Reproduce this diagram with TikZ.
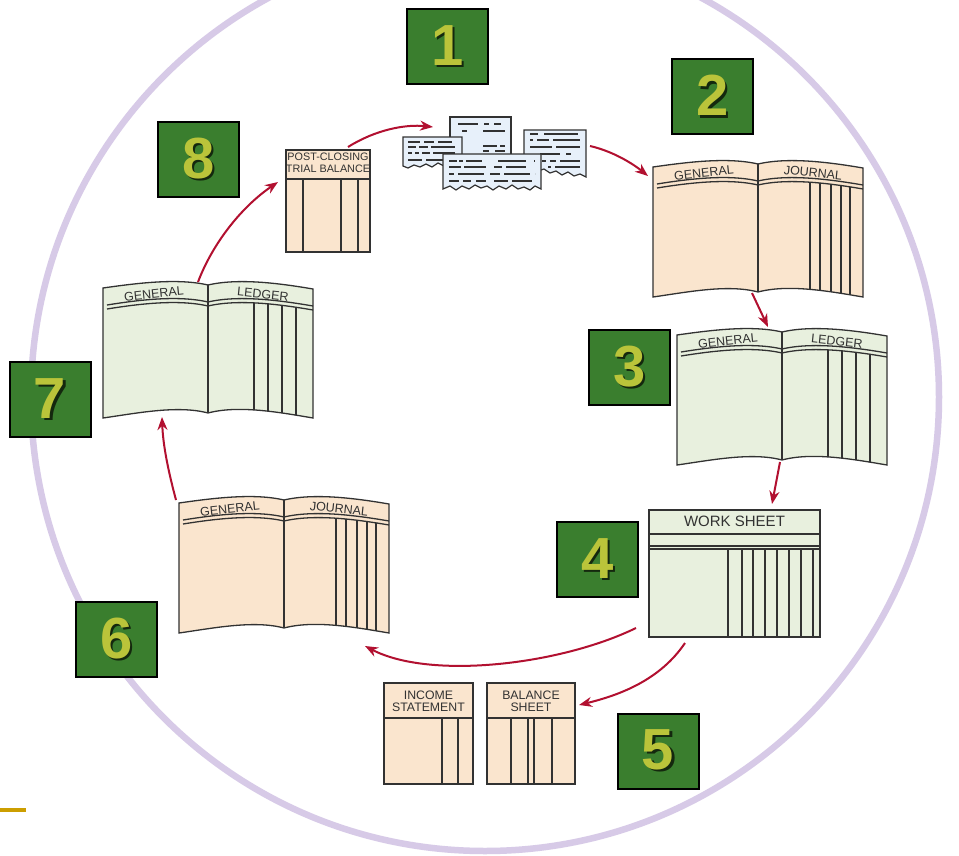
\documentclass[tikz,border=0pt]{standalone}
\usepackage{fontspec}
\setmainfont{Liberation Sans}
\usetikzlibrary{arrows.meta,calc}

\definecolor{ringlav}{RGB}{215,202,231}
\definecolor{peach}{RGB}{250,229,206}
\definecolor{mint}{RGB}{232,240,222}
\definecolor{slip}{RGB}{231,240,250}
\definecolor{inkgray}{RGB}{50,50,50}
\definecolor{arrowred}{RGB}{178,16,48}
\definecolor{boxgreen}{RGB}{58,126,46}
\definecolor{numyellow}{RGB}{186,196,58}
\definecolor{numshadow}{RGB}{20,40,14}
\definecolor{goldbar}{RGB}{204,158,0}

% digit with a soft drop shadow
\newcommand\stepdigit[1]{\rlap{\kern2.5pt\raisebox{-2.5pt}{\textcolor{numshadow}{#1}}}\textcolor{numyellow}{#1}}

% open two-page book drawn inside the area node #1
% #2 paper colour, #3/#4 page headings, #5 money-column positions
\newcommand\openbook[5]{%
  \begin{scope}[shift={(#1.north west)}]
    \path[fill=#2] (0,0) .. controls (35,-5) and (75,-10) .. (105,-3)
      .. controls (135,-10) and (175,-5) .. (210,1) -- (210,130)
      .. controls (175,124) and (135,117) .. (105,125)
      .. controls (75,117) and (35,125) .. (0,130) -- cycle;
    \begin{scope}
      \clip (0,21) .. controls (35,16) and (75,11) .. (105,18)
        .. controls (135,11) and (175,16) .. (210,22) -- (210,130)
        .. controls (175,124) and (135,117) .. (105,125)
        .. controls (75,117) and (35,125) .. (0,130) -- cycle;
      \foreach \colx in {#5} \draw[rule] (\colx,0) -- (\colx,140);
    \end{scope}
    \draw[rule] (0,0) .. controls (35,-5) and (75,-10) .. (105,-3)
      .. controls (135,-10) and (175,-5) .. (210,1) -- (210,130)
      .. controls (175,124) and (135,117) .. (105,125)
      .. controls (75,117) and (35,125) .. (0,130) -- cycle;
    \draw[rule] (105,-3) -- (105,125);
    \draw[rule] (4,17) .. controls (35,12) and (75,7) .. (105,14)
      .. controls (135,7) and (175,12) .. (210,18);
    \draw[rule] (4,21) .. controls (35,16) and (75,11) .. (105,18)
      .. controls (135,11) and (175,16) .. (210,22);
    \node[booklabel, rotate=6] (#1-left) at (51,6) {#3};
    \node[booklabel, rotate=-6] (#1-right) at (160,6) {#4};
  \end{scope}}

\begin{document}
\begin{tikzpicture}[x=1pt, y=-1pt,
  area/.style={inner sep=0pt, outer sep=0pt, anchor=north west},
  sheet/.style={draw=inkgray, line width=1.3pt, inner sep=0pt, outer sep=0pt, anchor=north west},
  rule/.style={draw=inkgray, line width=1.3pt},
  booklabel/.style={inner sep=0pt, text=inkgray, font=\fontsize{12.5}{12.5}\selectfont},
  sheetlabel/.style={inner sep=0pt, text=inkgray, align=center},
  numbox/.style={fill=boxgreen, draw=black, line width=2pt, minimum width=81pt,
    minimum height=75pt, inner sep=0pt, font=\fontsize{58}{58}\selectfont\bfseries},
  flow/.style={draw=arrowred, line width=2pt, -{Stealth[length=13pt,width=10pt]}},
  slipline/.style={draw=inkgray, line width=1.3pt},
  slipedge/.style={draw=inkgray, line width=1.2pt, fill=slip}]

\useasboundingbox (0,0) rectangle (959,855);
\clip (0,0) rectangle (959,855);
\fill[white] (0,0) rectangle (959,855);

% cycle ring
\draw[ringlav, line width=6.5pt] (485,397) circle[radius=454pt];

% small gold rule
\fill[goldbar] (0,808) rectangle (26,812);

% ---- anchor areas of the documents
\node[area, minimum width=183pt, minimum height=73pt] (docs) at (403,117) {};
\node[area, minimum width=210pt, minimum height=130pt] (gj1) at (653,167) {};
\node[area, minimum width=210pt, minimum height=130pt] (gl1) at (677,335) {};
\node[area, minimum width=210pt, minimum height=130pt] (gj2) at (179,503) {};
\node[area, minimum width=210pt, minimum height=130pt] (gl2) at (103,288) {};

% ---- source documents
\draw[slipedge] (450,117) -- (511,117) -- (511,156) -- (450,156) -- cycle;
\draw[slipline, dash pattern=on 20pt off 6pt on 5pt off 5pt on 7pt] (458,124) -- (505,124);
\draw[slipline, dash pattern=on 5pt off 16pt on 22pt] (462,131) -- (505,131);
\draw[slipline, dash pattern=on 14pt off 3pt on 6pt] (483,146) -- (505,146);
\draw[slipline, dash pattern=on 6pt off 6pt on 10pt] (483,151) -- (505,151);

\draw[slipedge] (403,137) -- (462,137) -- (462,164) -- (456,166) -- (450,163) -- (444,166)
  -- (438,163) -- (432,167) -- (426,164) -- (420,167) -- (414,165) -- (408,168) -- (403,166) -- cycle;
\draw[slipline, dash pattern=on 12pt off 4pt on 10pt off 4pt on 14pt] (408,142) -- (455,142);
\draw[slipline, dash pattern=on 8pt off 3pt on 9pt off 3pt on 24pt] (408,147) -- (455,147);
\draw[slipline, dash pattern=on 4pt off 3pt on 4pt off 3pt on 8pt off 3pt on 22pt] (408,153) -- (455,153);
\draw[slipline, dash pattern=on 14pt off 4pt on 24pt] (408,160) -- (450,160);

\draw[slipedge] (524,130) -- (586,130) -- (586,177) -- (580,174) -- (574,176) -- (568,172)
  -- (562,175) -- (556,171) -- (550,173) -- (544,169) -- (538,171) -- (530,168) -- (524,170) -- cycle;
\draw[slipline, dash pattern=on 8pt off 6pt on 34pt] (530,134) -- (580,134);
\draw[slipline, dash pattern=on 3pt off 4pt on 12pt off 4pt on 27pt] (530,140) -- (580,140);
\draw[slipline, dash pattern=on 22pt off 4pt on 24pt] (530,147) -- (580,147);
\draw[slipline, dash pattern=on 20pt off 6pt on 5pt] (540,154) -- (575,154);
\draw[slipline, dash pattern=on 4pt off 4pt on 6pt off 4pt on 22pt] (542,161) -- (580,161);
\draw[slipline, dash pattern=on 3pt off 4pt on 26pt] (548,167) -- (580,167);

\draw[slipedge] (443,154) -- (541,154) -- (541,189) -- (535,186) -- (530,190) -- (524,187)
  -- (518,189) -- (512,185) -- (506,189) -- (499,186) -- (493,190) -- (487,186) -- (481,188)
  -- (475,185) -- (469,189) -- (462,186) -- (456,190) -- (450,186) -- (443,189) -- cycle;
\draw[slipline, dash pattern=on 8pt off 2pt on 4pt off 3pt on 16pt off 16pt on 28pt] (449,161) -- (535,161);
\draw[slipline, dash pattern=on 12pt off 3pt on 22pt off 8pt on 8pt off 4pt on 20pt] (449,167) -- (535,167);
\draw[slipline, dash pattern=on 5pt off 4pt on 26pt off 6pt on 10pt off 4pt on 26pt] (449,174) -- (535,174);
\draw[slipline, dash pattern=on 10pt off 4pt on 8pt off 5pt on 10pt off 8pt on 14pt off 4pt on 20pt] (449,181) -- (535,181);

% ---- journals and ledgers
\openbook{gj1}{peach}{GENERAL}{JOURNAL}{157,167,178,188,197}
\openbook{gl1}{mint}{GENERAL}{LEDGER}{151,165,179,193}
\openbook{gj2}{peach}{GENERAL}{JOURNAL}{157,167,178,188,197}
\openbook{gl2}{mint}{GENERAL}{LEDGER}{151,165,179,193}

% ---- work sheet
\node[sheet, fill=mint, minimum width=171pt, minimum height=127pt] (ws) at (649,510) {};
\node[sheetlabel, font=\fontsize{15}{15}\selectfont] (ws-title) at ($(ws.north)+(0,11)$) {WORK SHEET};
\begin{scope}[shift={(ws.north west)}]
  \draw[rule] (0,24) -- (171,24);
  \draw[rule] (0,36) -- (171,36);
  \draw[rule] (0,39) -- (171,39);
  \foreach \colx in {79,93,104,116,128,140,152,164} \draw[rule] (\colx,39) -- (\colx,127);
\end{scope}

% ---- financial statements
\node[sheet, fill=peach, minimum width=89pt, minimum height=101pt] (is) at (384,683) {};
\node[sheetlabel, font=\fontsize{12.3}{12}\selectfont] (is-title) at ($(is.north)+(0,18)$) {INCOME\\STATEMENT};
\begin{scope}[shift={(is.north west)}]
  \draw[rule] (0,35) -- (89,35);
  \foreach \colx in {58,74} \draw[rule] (\colx,35) -- (\colx,101);
\end{scope}

\node[sheet, fill=peach, minimum width=88pt, minimum height=101pt] (bs) at (487,683) {};
\node[sheetlabel, font=\fontsize{12.3}{12}\selectfont] (bs-title) at ($(bs.north)+(0,18)$) {BALANCE\\SHEET};
\begin{scope}[shift={(bs.north west)}]
  \draw[rule] (0,35) -- (88,35);
  \foreach \colx in {24,41,47,65} \draw[rule] (\colx,35) -- (\colx,101);
\end{scope}

% ---- post-closing trial balance
\node[sheet, fill=peach, minimum width=84pt, minimum height=102pt] (pc) at (286,150) {};
\node[sheetlabel, font=\fontsize{10.8}{12}\selectfont] (pc-title) at ($(pc.north)+(0,13)$) {POST-CLOSING\\TRIAL BALANCE};
\begin{scope}[shift={(pc.north west)}]
  \draw[rule] (0,29) -- (84,29);
  \foreach \colx in {17,55,72} \draw[rule] (\colx,29) -- (\colx,102);
\end{scope}

% ---- step numbers
\node[numbox] (n1) at (447.5,46.5) {\stepdigit{1}};
\node[numbox] (n2) at (712.5,96.5) {\stepdigit{2}};
\node[numbox] (n3) at (629.5,367.5) {\stepdigit{3}};
\node[numbox] (n4) at (597.5,559.5) {\stepdigit{4}};
\node[numbox] (n5) at (658,751) {\stepdigit{5}};
\node[numbox] (n6) at (116.5,639.5) {\stepdigit{6}};
\node[numbox] (n7) at (50,399.5) {\stepdigit{7}};
\node[numbox] (n8) at (198.5,159.5) {\stepdigit{8}};

% ---- flow of the cycle
\draw[flow] ([shift={(20,-3)}]pc.north) .. controls +(27,-17) and +(-28,-3) .. ([shift={(30,10)}]docs.north west);
\draw[flow] ([shift={(4,-7.5)}]docs.east) .. controls +(22,5) and +(-16,-13) .. ([shift={(-5,9)}]gj1.north west);
\draw[flow] ([shift={(-6,-4)}]gj1.south) -- ([shift={(-14,-8)}]gl1.north);
\draw[flow] ([shift={(-2,-3)}]gl1.south) -- ([shift={(37.5,-6)}]ws.north);
\draw[flow] ([shift={(-13,-9)}]ws.south west) .. controls +(-76,37) and +(65,34) .. ([shift={(-24,13)}]gj2.south east);
\draw[flow] ([shift={(-49.5,6)}]ws.south) .. controls +(-25,37) and +(41,-10) .. ([shift={(4,22)}]bs.north east);
\draw[flow] ([shift={(-3,-3)}]gj2.north west) .. controls +(-8,-30) and +(1,28) .. ([shift={(59,-1)}]gl2.south west);
\draw[flow] ([shift={(95,-6)}]gl2.north west) .. controls +(14,-37) and +(-38,26) .. ([shift={(-8,-19)}]pc.west);

\end{tikzpicture}
\end{document}
